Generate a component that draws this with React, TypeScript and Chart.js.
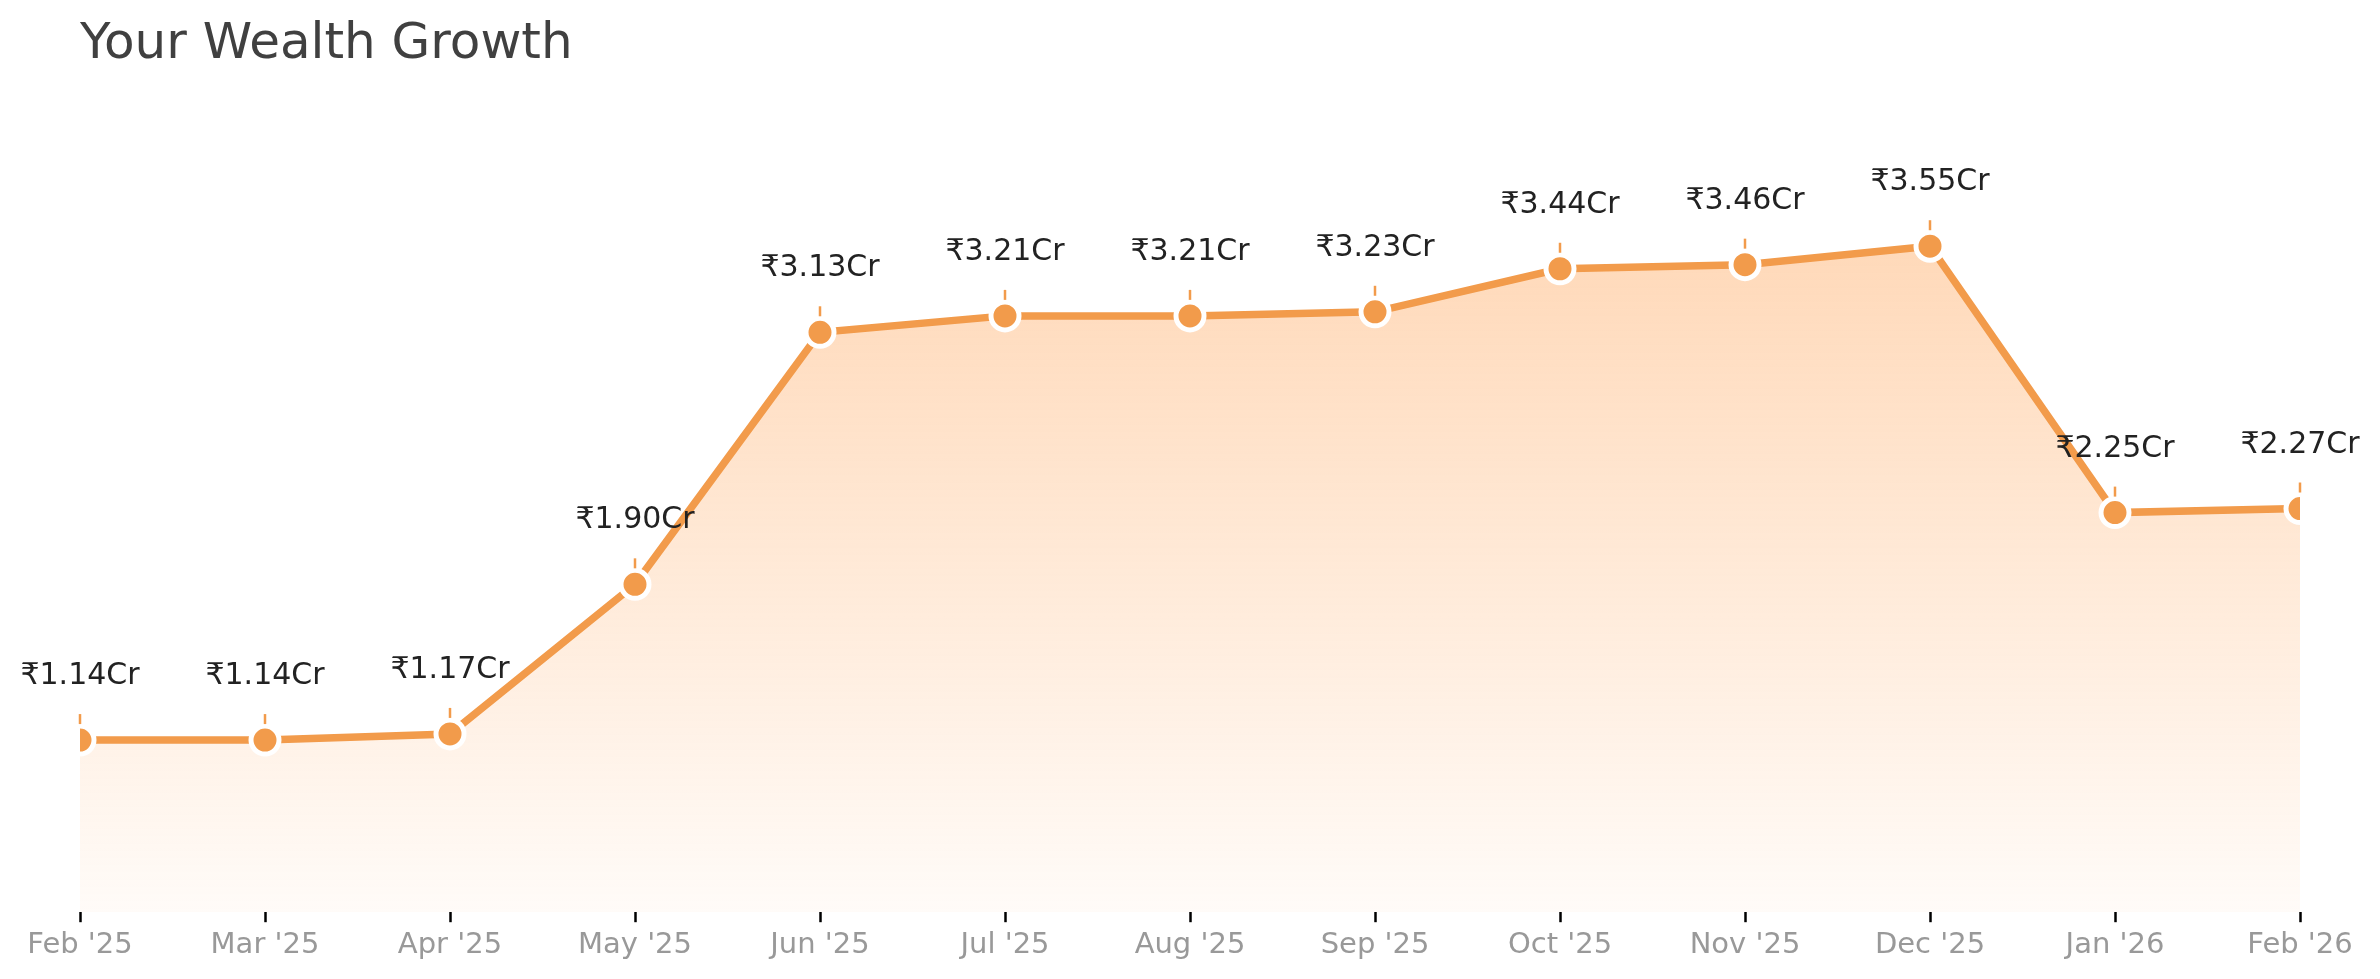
import { useEffect, useRef } from "react";
import { Chart, ChartConfiguration, Plugin, registerables } from "chart.js";

Chart.register(...registerables);

const months = [
	"Feb '25",
	"Mar '25",
	"Apr '25",
	"May '25",
	"Jun '25",
	"Jul '25",
	"Aug '25",
	"Sep '25",
	"Oct '25",
	"Nov '25",
	"Dec '25",
	"Jan '26",
	"Feb '26",
];

// portfolio value in crores
const wealthCr = [
	1.14, 1.14, 1.17, 1.9, 3.13, 3.21, 3.21, 3.23, 3.44, 3.46, 3.55, 2.25, 2.27,
];

const chartTitle = "Your Wealth Growth";

const ORANGE = "#F29B4B";
const FONT = "'DejaVu Sans', sans-serif";

// title + value labels with the small stick above each point
const labelsPlugin: Plugin<"line"> = {
	id: "valueLabels",
	afterDatasetsDraw(chart) {
		const { ctx, chartArea } = chart;
		const meta = chart.getDatasetMeta(0);
		ctx.save();

		ctx.font = `50px ${FONT}`;
		ctx.fillStyle = "#404040";
		ctx.textAlign = "left";
		ctx.textBaseline = "alphabetic";
		ctx.fillText(chartTitle, chartArea.left, 58);

		meta.data.forEach((pt, i) => {
			const { x, y } = pt.getProps(["x", "y"], true);
			ctx.strokeStyle = ORANGE;
			ctx.lineWidth = 2.5;
			ctx.beginPath();
			ctx.moveTo(x, y - 16);
			ctx.lineTo(x, y - 26);
			ctx.stroke();

			ctx.font = `30px ${FONT}`;
			ctx.fillStyle = "#222222";
			ctx.textAlign = "center";
			ctx.fillText(`₹${wealthCr[i].toFixed(2)}Cr`, x, y - 56);
		});
		ctx.restore();
	},
};

export const WealthChart = () => {
	const chartRef = useRef<HTMLCanvasElement | null>(null);
	const myChartRef = useRef<Chart<"line", number[], string> | null>(null);

	useEffect(() => {
		if (!chartRef.current) return;

		const config: ChartConfiguration<"line", number[], string> = {
			type: "line",
			data: {
				labels: months,
				datasets: [
					{
						label: "Wealth",
						data: wealthCr,
						borderColor: ORANGE,
						borderWidth: 7.5,
						tension: 0,
						fill: "start",
						backgroundColor: (context) => {
							const area = context.chart.chartArea;
							if (!area) return "rgba(255,160,80,0.3)";
							const g = context.chart.ctx.createLinearGradient(
								0,
								area.top,
								0,
								area.bottom
							);
							g.addColorStop(0, "rgba(255,160,80,0.45)");
							g.addColorStop(1, "rgba(255,160,80,0.04)");
							return g;
						},
						pointRadius: 14,
						pointHoverRadius: 14,
						pointBorderWidth: 5,
						pointBackgroundColor: ORANGE,
						pointBorderColor: "#ffffff",
						clip: 0,
					},
				],
			},
			options: {
				responsive: false,
				devicePixelRatio: 1,
				animation: false,
				layout: {
					padding: { left: 80, right: 80, top: 154, bottom: 10 },
				},
				scales: {
					y: {
						display: false,
						min: 0.3,
						max: 4.0,
					},
					x: {
						offset: false,
						border: { display: false },
						grid: {
							drawOnChartArea: false,
							drawTicks: true,
							tickLength: 10,
							tickColor: "#000000",
							tickWidth: 2.5,
						},
						ticks: {
							color: "#999999",
							padding: 6,
							maxRotation: 0,
							autoSkip: false,
							font: { family: FONT, size: 29 },
						},
					},
				},
				plugins: {
					legend: { display: false },
					tooltip: { enabled: false },
					title: { display: false },
				},
			},
			plugins: [labelsPlugin],
		};

		myChartRef.current = new Chart(chartRef.current, config);

		return () => {
			myChartRef.current?.destroy();
		};
	}, []);

	return <canvas ref={chartRef} width={2380} height={979}></canvas>;
};

export default function App() {
	return (
		<div
			style={{
				position: "absolute",
				left: 0,
				top: 0,
				width: 2380,
				height: 979,
				background: "#ffffff",
			}}
		>
			<WealthChart />
		</div>
	);
}
